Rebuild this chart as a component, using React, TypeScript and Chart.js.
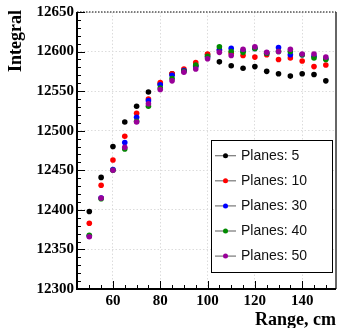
import React, { useEffect, useRef } from "react";
import { Chart, registerables } from "chart.js";

Chart.register(...registerables);

const ranges = [50, 55, 60, 65, 70, 75, 80, 85, 90, 95, 100, 105, 110, 115, 120, 125, 130, 135, 140, 145, 150];
const planes5 = [12398, 12441, 12480, 12511, 12531, 12549, 12559, 12572, 12576, 12582, 12596, 12587, 12582, 12579, 12581, 12575, 12572, 12569, 12572, 12571, 12563];
const planes10 = [12383, 12431, 12463, 12493, 12522, 12540, 12561, 12572, 12578, 12586, 12597, 12602, 12598, 12595, 12593, 12596, 12590, 12592, 12588, 12581, 12583];
const planes30 = [12367, 12415, 12451, 12485, 12517, 12538, 12558, 12570, 12576, 12581, 12593, 12602, 12604, 12601, 12604, 12598, 12605, 12596, 12596, 12594, 12591];
const planes40 = [12368, 12414, 12450, 12477, 12512, 12531, 12554, 12566, 12575, 12583, 12594, 12606, 12600, 12599, 12604, 12598, 12600, 12600, 12596, 12592, 12590];
const planes50 = [12366, 12415, 12450, 12479, 12511, 12534, 12552, 12563, 12574, 12578, 12591, 12599, 12595, 12603, 12606, 12599, 12600, 12603, 12597, 12597, 12593];

const seriesLabels = ["Planes: 5", "Planes: 10", "Planes: 30", "Planes: 40", "Planes: 50"];
const seriesColors = ["#000000", "#ff0000", "#0000ff", "#008a00", "#990099"];
const seriesData = [planes5, planes10, planes30, planes40, planes50];

const xTickValues = [60, 80, 100, 120, 140];
const xMin = 44.8;
const xMax = 154.3;
const yMin = 12300;
const yMax = 12650;
const yStep = 50;
const xTitle = "Range, cm";
const yTitle = "Integral";

const serif = "'Liberation Serif', 'DejaVu Serif', serif";
const sans = "'Liberation Sans', Arial, sans-serif";

const decorPlugin = {
  id: "decor",
  beforeDatasetsDraw(chart: any) {
    const { ctx, chartArea } = chart;
    const { left, right, top, bottom } = chartArea;
    const xs = chart.scales.x;
    const ys = chart.scales.y;
    ctx.save();
    // top border dotted
    ctx.strokeStyle = "#555555";
    ctx.lineWidth = 1.5;
    ctx.setLineDash([1.5, 1.5]);
    ctx.beginPath();
    ctx.moveTo(left, top);
    ctx.lineTo(right, top);
    ctx.stroke();
    ctx.setLineDash([]);
    // right border
    ctx.strokeStyle = "#333333";
    ctx.lineWidth = 1.5;
    ctx.beginPath();
    ctx.moveTo(right, top);
    ctx.lineTo(right, bottom);
    ctx.stroke();
    // ticks
    ctx.strokeStyle = "#000000";
    ctx.lineWidth = 1;
    for (let v = yMin; v <= yMax; v += 10) {
      const y = Math.round(ys.getPixelForValue(v)) + 0.5;
      const len = (v - yMin) % yStep === 0 ? 8 : 4;
      ctx.beginPath();
      ctx.moveTo(left, y);
      ctx.lineTo(left + len, y);
      ctx.stroke();
    }
    for (let v = 45; v <= xMax; v += 5) {
      const x = Math.round(xs.getPixelForValue(v)) + 0.5;
      const len = xTickValues.includes(v) ? 8 : 4;
      ctx.beginPath();
      ctx.moveTo(x, bottom);
      ctx.lineTo(x, bottom - len);
      ctx.stroke();
    }
    // axes
    ctx.lineWidth = 2;
    ctx.beginPath();
    ctx.moveTo(left, top);
    ctx.lineTo(left, bottom);
    ctx.lineTo(right, bottom);
    ctx.stroke();
    ctx.restore();
  },
  afterDraw(chart: any) {
    const { ctx, chartArea } = chart;
    ctx.save();
    // titles
    ctx.fillStyle = "#000000";
    ctx.font = `bold 18px ${serif}`;
    ctx.textAlign = "right";
    ctx.textBaseline = "middle";
    ctx.fillText(xTitle, chartArea.right, 320);
    ctx.translate(16, 10);
    ctx.rotate(-Math.PI / 2);
    ctx.textAlign = "right";
    ctx.fillText(yTitle, 0, 0);
    ctx.restore();

    // legend
    ctx.save();
    const bx = 211, by = 140, bw = 121, bh = 132;
    ctx.fillStyle = "#ffffff";
    ctx.fillRect(bx, by, bw, bh);
    ctx.strokeStyle = "#000000";
    ctx.lineWidth = 1;
    ctx.strokeRect(bx + 0.5, by + 0.5, bw, bh);
    ctx.font = `14px ${sans}`;
    ctx.textAlign = "left";
    ctx.textBaseline = "middle";
    const rowY = [155.7, 180.8, 205.9, 231, 256.1];
    seriesLabels.forEach((lab, i) => {
      const y = rowY[i];
      ctx.strokeStyle = "#777777";
      ctx.lineWidth = 1.2;
      ctx.beginPath();
      ctx.moveTo(215, y);
      ctx.lineTo(236, y);
      ctx.stroke();
      ctx.fillStyle = seriesColors[i];
      ctx.beginPath();
      ctx.arc(225.5, y, 2.5, 0, Math.PI * 2);
      ctx.fill();
      ctx.fillStyle = "#111111";
      ctx.fillText(lab, 241, y + 0.5);
    });
    ctx.restore();
  },
};

export default function App() {
  const ref = useRef<HTMLCanvasElement>(null);
  useEffect(() => {
    if (!ref.current) return;
    const chart = new Chart(ref.current, {
      type: "scatter",
      data: {
        datasets: seriesData.map((arr, i) => ({
          label: seriesLabels[i],
          data: arr.map((v, j) => ({ x: ranges[j], y: v })),
          backgroundColor: seriesColors[i],
          borderColor: seriesColors[i],
          pointRadius: 2.8,
          pointBorderWidth: 0,
          showLine: false,
          order: 4 - i,
        })),
      },
      options: {
        responsive: false,
        animation: false,
        layout: { padding: { top: 12, right: 3.3, left: 0, bottom: 0 } },
        plugins: { legend: { display: false }, tooltip: { enabled: false } },
        scales: {
          x: {
            type: "linear",
            min: xMin,
            max: xMax,
            afterFit: (s: any) => {
              s.height = 39;
            },
            afterBuildTicks: (s: any) => {
              s.ticks = xTickValues.map((v) => ({ value: v }));
            },
            grid: { color: "#dcdcdc", drawTicks: false, lineWidth: 1 },
            border: { display: false, dash: [1.5, 2] },
            ticks: {
              color: "#000000",
              font: { family: serif, size: 15, weight: "bold" },
              padding: 3,
              maxRotation: 0,
              autoSkip: false,
            },
          },
          y: {
            type: "linear",
            min: yMin,
            max: yMax,
            afterFit: (s: any) => {
              s.width = 77;
            },
            grid: { color: "#dcdcdc", drawTicks: false, lineWidth: 1 },
            border: { display: false, dash: [1.5, 2] },
            ticks: {
              stepSize: yStep,
              color: "#000000",
              font: { family: serif, size: 15, weight: "bold" },
              padding: 3,
              callback: (v: any) => String(v),
            },
          },
        },
      },
      plugins: [decorPlugin],
    });
    return () => chart.destroy();
  }, []);
  return (
    <div style={{ position: "absolute", left: 0, top: 0, width: 340, height: 328, background: "#ffffff" }}>
      <canvas ref={ref} width={340} height={328} style={{ display: "block" }} />
    </div>
  );
}
